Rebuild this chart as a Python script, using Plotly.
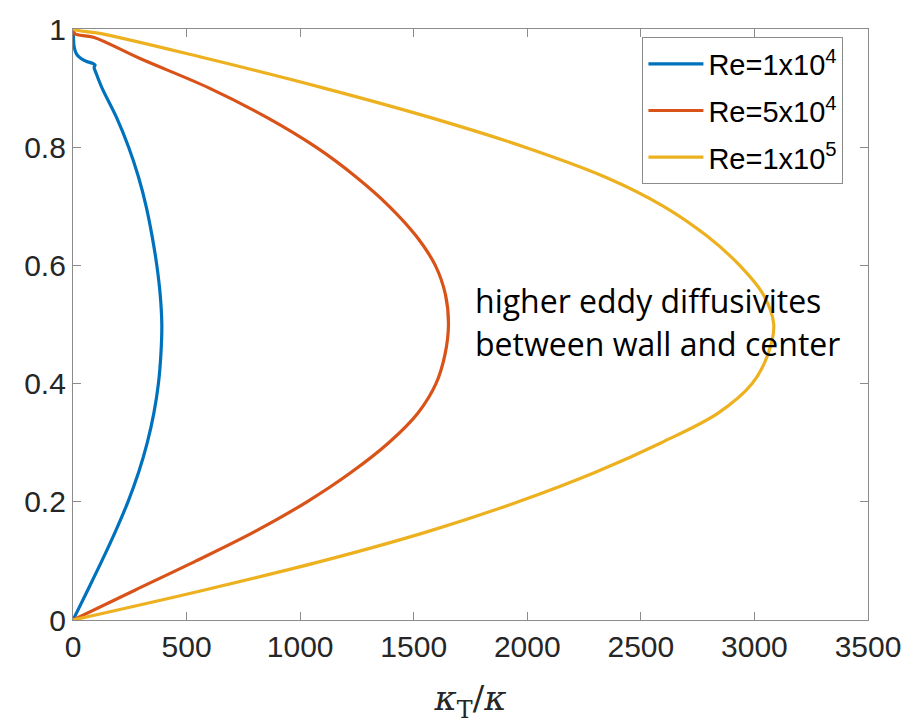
import plotly.graph_objects as go

# ---- data ----
blue_y = [1, 0.985, 0.97, 0.958, 0.95, 0.945, 0.942, 0.939, 0.935, 0.925, 0.9, 0.85, 0.8, 0.75,
          0.7, 0.65, 0.6, 0.55, 0.5, 0.45, 0.4, 0.35, 0.3, 0.25, 0.2, 0.15, 0.1, 0.05, 0]
blue_x = [0, 2, 5, 15, 35, 60, 85, 97, 93, 102, 128, 192, 245, 288,
          322, 348, 369, 384, 391, 387, 376, 356, 327, 289, 242, 187, 127, 64, 0]

red_y = [1, 0.992, 0.986, 0.95, 0.9, 0.85, 0.8, 0.75, 0.7, 0.65, 0.6, 0.55, 0.5,
         0.45, 0.4, 0.35, 0.3, 0.25, 0.2, 0.15, 0.1, 0.05, 0]
red_x = [0, 8, 90, 295, 600, 855, 1070, 1245, 1392, 1510, 1595, 1640, 1653,
         1638, 1598, 1518, 1390, 1225, 1030, 802, 542, 270, 0]

yel_y = [1, 0.997, 0.993, 0.95, 0.9, 0.85, 0.8, 0.75, 0.7, 0.65, 0.6, 0.55, 0.5,
         0.45, 0.4, 0.35, 0.3, 0.25, 0.2, 0.15, 0.1, 0.05, 0]
yel_x = [0, 30, 111, 590, 1105, 1575, 1990, 2340, 2600, 2790, 2935, 3040, 3085,
         3060, 2990, 2840, 2590, 2300, 1960, 1565, 1100, 570, 0]

series_names = ["Re=1x10<sup>4</sup>", "Re=5x10<sup>4</sup>", "Re=1x10<sup>5</sup>"]
series_colors = ["#0072BD", "#D95319", "#EDB120"]

x_ticks = [0, 500, 1000, 1500, 2000, 2500, 3000, 3500]
y_ticks = [0, 0.2, 0.4, 0.6, 0.8, 1]
y_tick_labels = ["0", "0.2", "0.4", "0.6", "0.8", "1"]

note_lines = ["higher eddy diffusivites", "between wall and center"]

fig = go.Figure()
for i, (xs, ys) in enumerate([(blue_x, blue_y), (red_x, red_y), (yel_x, yel_y)]):
    fig.add_trace(go.Scatter(
        x=xs, y=ys, mode="lines", name=series_names[i],
        line=dict(color=series_colors[i], width=3.2, shape="spline", smoothing=1.0),
        legendgroup=f"g{i}",
    ))

axis_common = dict(
    showline=True, linecolor="#8c8c8c", linewidth=1.3, mirror="ticks",
    ticks="inside", ticklen=8, tickcolor="#8c8c8c", tickwidth=1.2,
    showgrid=False, zeroline=False,
    tickfont=dict(family="Liberation Sans, Arial, sans-serif", size=30, color="#262626"),
)

fig.update_xaxes(range=[0, 3500], tickvals=x_ticks, ticktext=[str(v) for v in x_ticks],
                 title=dict(text="<i>κ</i><sub>T</sub>/<i>κ</i>",
                            font=dict(family="DejaVu Serif, serif", size=34, color="#262626"),
                            standoff=24),
                 **axis_common)
fig.update_yaxes(range=[0, 1], tickvals=y_ticks, ticktext=y_tick_labels, **axis_common)

fig.add_annotation(x=1762, y=0.54, xref="x", yref="y", text=note_lines[0], showarrow=False,
                   xanchor="left", yanchor="middle",
                   font=dict(family="Open Sans, Noto Sans, sans-serif", size=32, color="#000000"))
fig.add_annotation(x=1762, y=0.468, xref="x", yref="y", text=note_lines[1], showarrow=False,
                   xanchor="left", yanchor="middle",
                   font=dict(family="Open Sans, Noto Sans, sans-serif", size=32, color="#000000"))

fig.update_layout(
    width=913, height=728,
    margin=dict(l=73, r=45, t=20, b=108),
    paper_bgcolor="white", plot_bgcolor="white",
    legend=dict(x=0.716, y=0.986, xanchor="left", yanchor="top",
                bgcolor="white", bordercolor="#8c8c8c", borderwidth=1.2,
                font=dict(family="Liberation Sans, Arial, sans-serif", size=29, color="#000000"),
                itemwidth=55, tracegroupgap=6, traceorder="grouped"),
    showlegend=True,
)

fig.write_html("out.html")
